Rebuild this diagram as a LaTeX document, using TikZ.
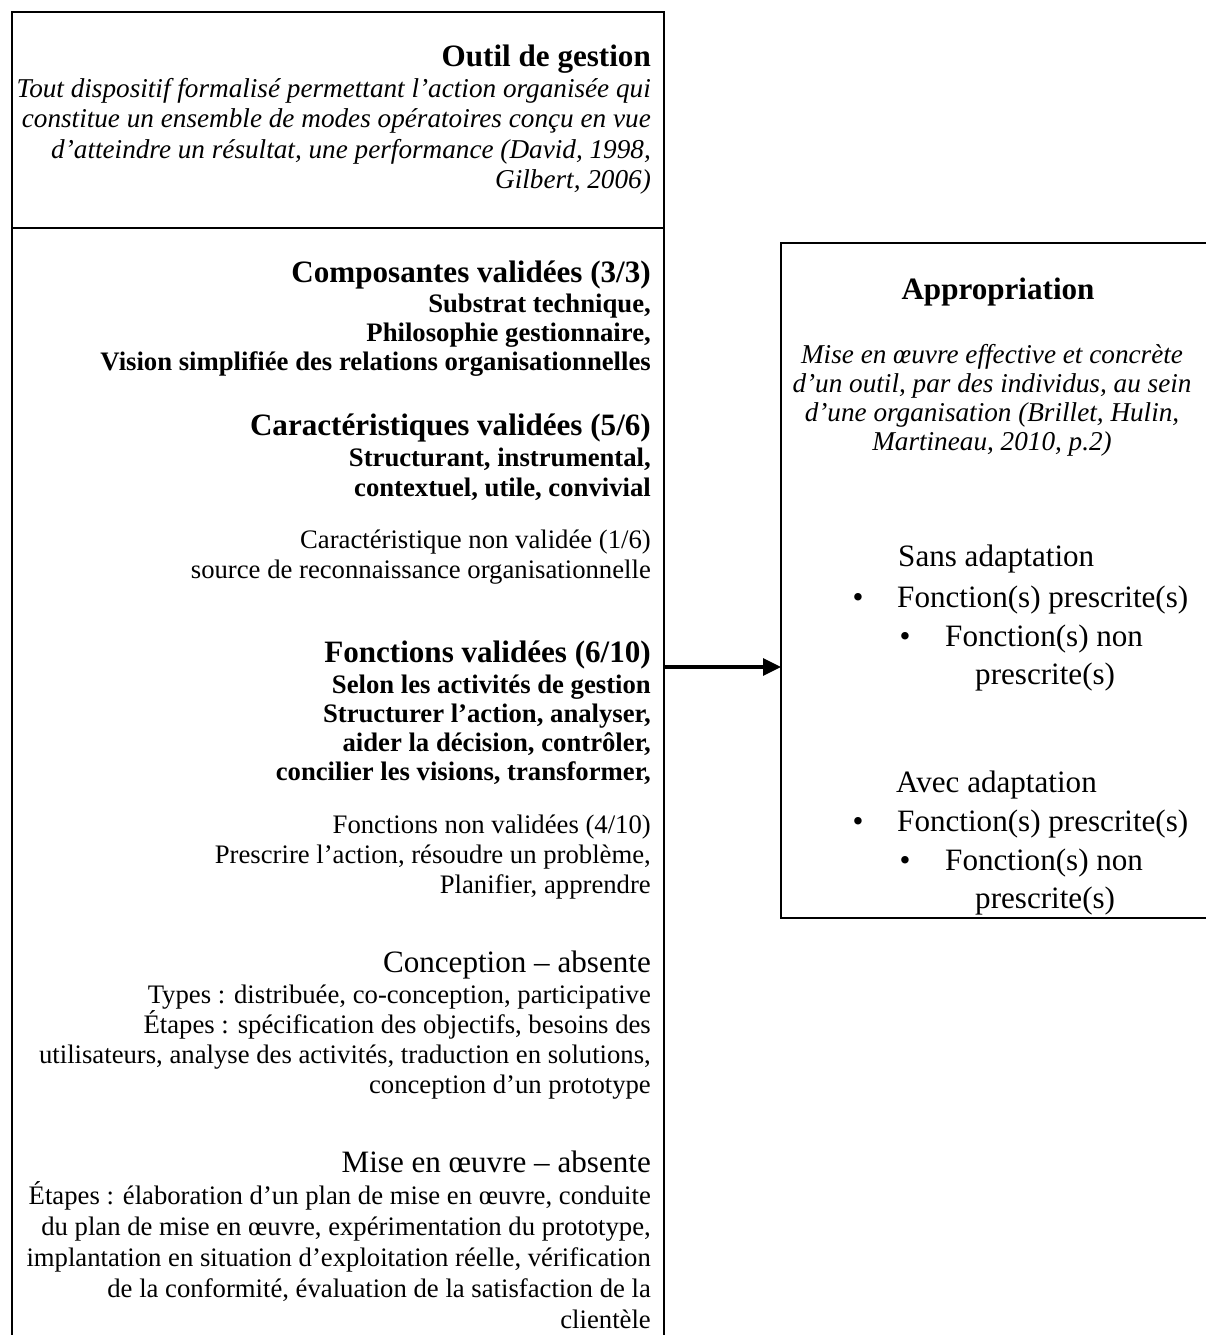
\documentclass[tikz,border=0pt]{standalone}
\usepackage{fontspec}
\setmainfont{Liberation Serif}
\usetikzlibrary{arrows.meta}
\newcommand\fsA{\fontsize{26.7}{30}\selectfont}
\newcommand\fsI{\fontsize{27.2}{30}\selectfont}
\newcommand\fsB{\fontsize{31.1}{35}\selectfont}
\tikzset{
  rline/.style={anchor=base east, inner sep=0pt},
  body/.style={rline, font=\fsA},
  bodyb/.style={rline, font=\fsA\bfseries},
  bodyi/.style={rline, font=\fsI\itshape},
  headb/.style={rline, font=\fsB\bfseries},
  head/.style={rline, font=\fsB},
  ctri/.style={anchor=base, inner sep=0pt, font=\fsI\itshape},
  ctrb/.style={anchor=base, inner sep=0pt, font=\fsB\bfseries},
  lft/.style={anchor=base west, inner sep=0pt, font=\fsB},
  bul/.style={anchor=base, inner sep=0pt, font=\fsB},
  frame/.style={line width=1.6pt},
  conn/.style={line width=3.2pt, -{Triangle[length=18pt,width=17pt]}}
}
\begin{document}
\begin{tikzpicture}[x=1pt,y=-1pt]
\useasboundingbox[fill=white] (0,0) rectangle (1205,1335);
% left box
\draw[frame] (12,1345) -- (12,12) -- (664,12) -- (664,1345);
\draw[frame] (12,228) -- (664,228);
% right box
\draw[frame] (1215,243) -- (781,243) -- (781,918) -- (1215,918);

\def\xr{651}
\node[headb] (t1) at (\xr,67) {Outil de gestion};
\node[bodyi] (d1) at (\xr,98) {Tout dispositif formalisé permettant l’action organisée qui};
\node[bodyi] (d2) at (\xr,128) {constitue un ensemble de modes opératoires conçu en vue};
\node[bodyi] (d3) at (\xr,158) {d’atteindre un résultat, une performance (David, 1998,};
\node[bodyi] (d4) at (\xr,188) {Gilbert, 2006)};

\node[headb] (c0) at (\xr,282) {Composantes validées (3/3)};
\node[bodyb] (c1) at (\xr,312) {Substrat technique,};
\node[bodyb] (c2) at (\xr,341) {Philosophie gestionnaire,};
\node[bodyb] (c3) at (\xr,370) {Vision simplifiée des relations organisationnelles};

\node[headb] (k0) at (\xr,435) {Caractéristiques validées (5/6)};
\node[bodyb] (k1) at (\xr,466) {Structurant, instrumental,};
\node[bodyb] (k2) at (\xr,496) {contextuel, utile, convivial};

\node[body] (n1) at (\xr,548) {Caractéristique non validée (1/6)};
\node[body] (n2) at (\xr,578) {source de reconnaissance organisationnelle};

\node[headb] (f0) at (\xr,662) {Fonctions validées (6/10)};
\node[bodyb] (f1) at (\xr,693) {Selon les activités de gestion};
\node[bodyb] (f2) at (\xr,722) {Structurer l’action, analyser,};
\node[bodyb] (f3) at (\xr,751) {aider la décision, contrôler,};
\node[bodyb] (f4) at (\xr,780) {concilier les visions, transformer,};

\node[body] (g1) at (\xr,833) {Fonctions non validées (4/10)};
\node[body] (g2) at (\xr,863) {Prescrire l’action, résoudre un problème,};
\node[body] (g3) at (\xr,893) {Planifier, apprendre};

\node[head] (p0) at (\xr,972) {Conception – absente};
\node[body] (p1) at (\xr,1003) {Types : distribuée, co-conception, participative};
\node[body] (p2) at (\xr,1033) {Étapes : spécification des objectifs, besoins des};
\node[body] (p3) at (\xr,1063) {utilisateurs, analyse des activités, traduction en solutions,};
\node[body] (p4) at (\xr,1093) {conception d’un prototype};

\node[head] (m0) at (\xr,1172) {Mise en œuvre – absente};
\node[body] (m1) at (\xr,1204) {Étapes : élaboration d’un plan de mise en œuvre, conduite};
\node[body] (m2) at (\xr,1235) {du plan de mise en œuvre, expérimentation du prototype,};
\node[body] (m3) at (\xr,1266) {implantation en situation d’exploitation réelle, vérification};
\node[body] (m4) at (\xr,1297) {de la conformité, évaluation de la satisfaction de la};
\node[body] (m5) at (\xr,1328) {clientèle};

% right box
\def\xc{992}
\node[ctrb] (a0) at (998,299) {Appropriation};
\node[ctri] (a1) at (\xc,363) {Mise en œuvre effective et concrète};
\node[ctri] (a2) at (\xc,392) {d’un outil, par des individus, au sein};
\node[ctri] (a3) at (\xc,421) {d’une organisation (Brillet, Hulin,};
\node[ctri] (a4) at (\xc,450) {Martineau, 2010, p.2)};

\node[lft] (s0) at (898,566) {Sans adaptation};
\node[bul] (sb1) at (858,607) {•};
\node[lft] (s1) at (897,607) {Fonction(s) prescrite(s)};
\node[bul] (sb2) at (905,646) {•};
\node[lft] (s2) at (945,646) {Fonction(s) non};
\node[lft] (s3) at (975,684) {prescrite(s)};

\node[lft] (v0) at (896,792) {Avec adaptation};
\node[bul] (vb1) at (858,831) {•};
\node[lft] (v1) at (897,831) {Fonction(s) prescrite(s)};
\node[bul] (vb2) at (905,870) {•};
\node[lft] (v2) at (945,870) {Fonction(s) non};
\node[lft] (v3) at (975,908) {prescrite(s)};

% connector
\coordinate (aL) at (663,667);
\coordinate (aR) at (781,667);
\draw[conn] (aL) -- (aR);
\end{tikzpicture}
\end{document}
